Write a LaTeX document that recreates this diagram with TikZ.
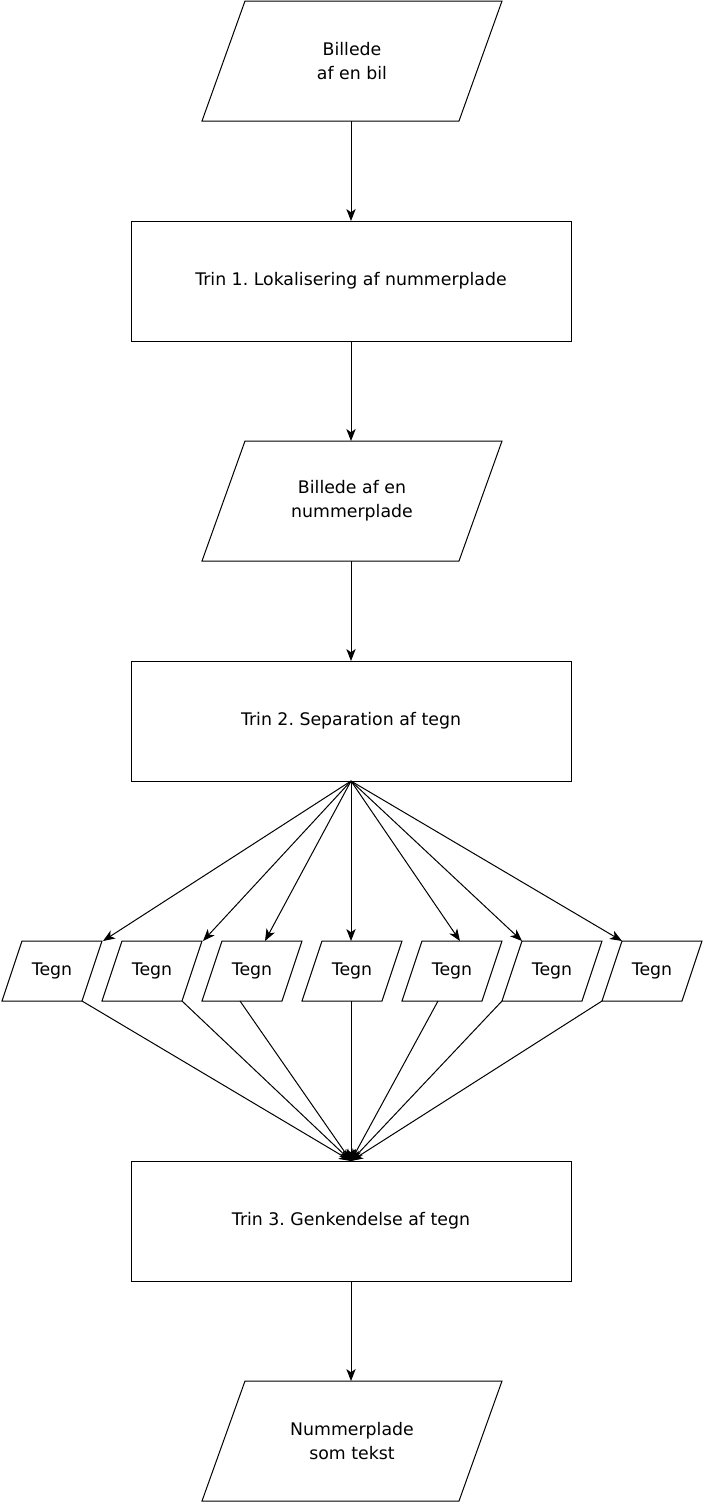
\documentclass[tikz,border=0pt]{standalone}
\usepackage{fontspec}
\setmainfont{DejaVu Sans}
\usetikzlibrary{arrows.meta,calc}
\begin{document}
\frenchspacing
\begin{tikzpicture}[x=0.75pt,y=-0.75pt,
  font=\fontsize{13pt}{18pt}\selectfont,
  line width=0.75pt,
  arr/.style={-{Stealth[length=9pt,width=7pt,inset=2.5pt]}},
  procbox/.style={draw,rectangle,minimum width=330pt,minimum height=90pt,inner sep=0pt,outer sep=0pt,align=center},
  iobox/.style={rectangle,minimum width=225pt,minimum height=90pt,inner sep=0pt,outer sep=0pt,align=center},
  tegnbox/.style={rectangle,minimum width=75pt,minimum height=45pt,inner sep=0pt,outer sep=0pt,align=center}
]
\useasboundingbox (0,0) rectangle (704,1503);
\node[iobox] (p1) at (352,61) {Billede\\af en bil};
\node[procbox] (r1) at (351,281) {Trin 1. Lokalisering af nummerplade};
\node[iobox] (p2) at (352,501) {Billede af en\\nummerplade};
\node[procbox] (r2) at (351,721) {Trin 2. Separation af tegn};
\foreach \i/\x in {1/52,2/152,3/252,4/352,5/452,6/552,7/652}
  \node[tegnbox] (t\i) at (\x,971) {Tegn};
\node[procbox] (r3) at (351,1221) {Trin 3. Genkendelse af tegn};
\node[iobox] (p3) at (352,1441) {Nummerplade\\som tekst};

% parallelogram outlines
\foreach \n in {p1,p2,p3}
  \draw (\n.south west) -- ($(\n.north west)+(43,0)$) -- (\n.north east) -- ($(\n.south east)+(-43,0)$) -- cycle;
\foreach \i in {1,...,7}
  \draw (t\i.south west) -- ($(t\i.north west)+(20,0)$) -- (t\i.north east) -- ($(t\i.south east)+(-20,0)$) -- cycle;

\draw[arr] (p1.south -| r1.north) -- (r1.north);
\draw[arr] (r1.south) -- (r1.south |- p2.north);
\draw[arr] (p2.south -| r2.north) -- (r2.north);
\draw[arr] (r3.south) -- (r3.south |- p3.north);

\coordinate (a1) at ($(t1.north east)+(1,0)$);
\coordinate (a2) at ($(t2.north east)+(1,0)$);
\coordinate (a3) at ($(t3.north)+(13,0)$);
\coordinate (a4) at ($(t4.north)+(-1,0)$);
\coordinate (a5) at ($(t5.north)+(8,0)$);
\coordinate (a6) at ($(t6.north west)+(20,0)$);
\coordinate (a7) at ($(t7.north west)+(20,0)$);
\foreach \i in {1,...,7}
  \draw[arr] (r2.south) -- (a\i);

\coordinate (b1) at ($(t1.south east)+(-20,0)$);
\coordinate (b2) at ($(t2.south east)+(-20,0)$);
\coordinate (b3) at ($(t3.south)+(-12,0)$);
\coordinate (b4) at ($(t4.south)+(-1,0)$);
\coordinate (b5) at ($(t5.south)+(-14,0)$);
\coordinate (b6) at (t6.south west);
\coordinate (b7) at (t7.south west);
\foreach \i in {1,...,7}
  \draw[arr] (b\i) -- (r3.north);
\end{tikzpicture}
\end{document}
